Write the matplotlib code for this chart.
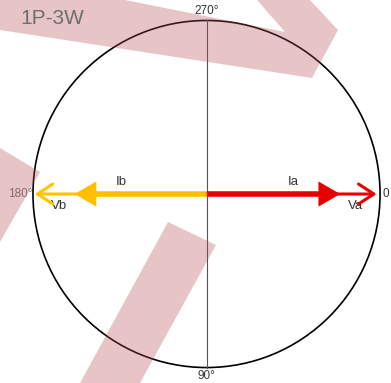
import numpy as np
import matplotlib.pyplot as plt
from matplotlib.patches import Circle, Polygon

# phasors: (name, magnitude, angle in degrees, colour)
voltage_names = ["Va", "Vb"]
voltage_mags = [0.98, 0.99]
voltage_angles = [0, 180]
voltage_colors = ["#e60000", "#ffc400"]

current_names = ["Ia", "Ib"]
current_mags = [0.77, 0.76]
current_angles = [0, 180]
current_colors = ["#e60000", "#ffbf00"]

angle_ticks = [0, 90, 180, 270]
angle_labels = ["0", "90°", "180°", "270°"]

plt.rcParams['font.family'] = ['Liberation Sans', 'DejaVu Sans']

fig = plt.figure(figsize=(3.91, 3.83), dpi=100)
ax = fig.add_axes([0, 0, 1, 1])
ax.set_xlim(-1.190, 1.063)
ax.set_ylim(1.089, -1.118)   # y down so 90 deg sits at the bottom
ax.set_aspect('equal')
ax.axis('off')

# polar frame
ax.add_patch(Circle((0, 0), 1.0, fill=False, color='black', lw=1.2, zorder=2))
ax.plot([0, 0], [-1, 1], color='#555555', lw=0.8, zorder=2)

# angle labels just outside the circle
for a, lab in zip(angle_ticks, angle_labels):
    t = np.radians(a)
    x, y = np.cos(t), np.sin(t)
    if a == 0:
        ax.text(x + 0.015, y, lab, ha='left', va='center', fontsize=8.5, color='#333333')
    elif a == 180:
        ax.text(x - 0.005, y, lab, ha='right', va='center', fontsize=8.5, color='#777777')
    elif a == 90:
        ax.text(x, y + 0.012, lab, ha='center', va='top', fontsize=8.5, color='#333333')
    else:
        ax.text(x, y - 0.02, lab, ha='center', va='bottom', fontsize=8.5, color='#333333')

# voltage phasors: thin with open heads
for name, m, a, c in zip(voltage_names, voltage_mags, voltage_angles, voltage_colors):
    t = np.radians(a)
    tip = (m * np.cos(t), m * np.sin(t))
    ax.annotate('', xy=tip, xytext=(0, 0),
                arrowprops=dict(arrowstyle='->,head_length=1.1,head_width=0.72',
                                color=c, lw=2.2, shrinkA=0, shrinkB=0), zorder=4)
    dx = -0.12 * np.cos(t) if a == 0 else 0.14
    ax.text(tip[0] + dx, tip[1] + 0.07, name, ha='center', va='center', fontsize=9.5, color='#333333')

# current phasors: thick with filled heads
for name, m, a, c in zip(current_names, current_mags, current_angles, current_colors):
    t = np.radians(a)
    ax.arrow(0, 0, m * np.cos(t), m * np.sin(t), width=0.032, head_width=0.145,
             head_length=0.125, length_includes_head=True, color=c, lw=0, zorder=5)
    tip = (m * np.cos(t), m * np.sin(t))
    ax.text(tip[0] - 0.27 * np.cos(t), tip[1] - 0.07, name, ha='center', va='center',
            fontsize=9.5, color='#333333')

fig.text(52 / 391, 1 - 18 / 383, "1P-3W", ha='center', va='center', fontsize=15, color='#6e6e6e')

# pink watermark shapes (pixel outlines)
marks = [
    [(0, 0), (125, 0), (285, 32), (257, 0), (310, 0), (338, 30), (312, 78), (0, 30)],
    [(0, 148), (40, 172), (0, 242)],
    [(168, 222), (216, 245), (140, 383), (80, 383)],
]
for pts in marks:
    fpts = [(x / 391, 1 - y / 383) for x, y in pts]
    fig.patches.append(Polygon(fpts, closed=True, transform=fig.transFigure,
                               facecolor=(0.71, 0.30, 0.32), alpha=0.32, lw=0, zorder=3))

fig.savefig('out.png', dpi=100)
